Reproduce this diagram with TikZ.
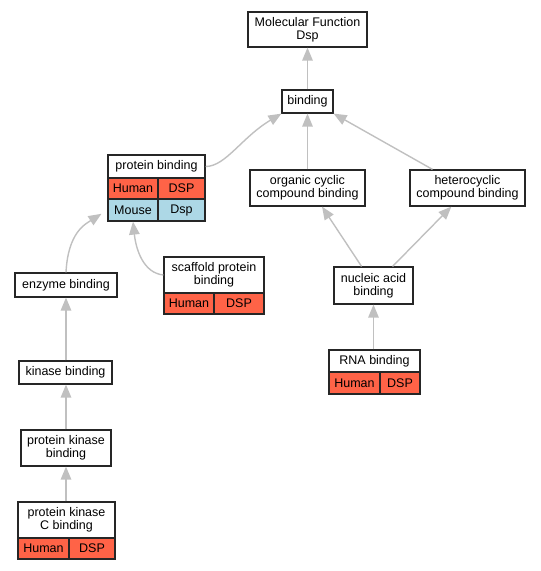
\documentclass[tikz,border=0pt]{standalone}
\usepackage{fontspec}
\setmainfont{Liberation Sans}
\usepackage{tikz}
\usetikzlibrary{arrows.meta,positioning}
\definecolor{humanred}{HTML}{FF6347}
\definecolor{mouseblue}{HTML}{ADD8E6}
\definecolor{edgegray}{HTML}{C0C0C0}
\tikzstyle{every node}=[draw=black!85,line width=1.2pt,inner sep=0pt,align=center,
    font=\fontsize{12.5}{13}\selectfont]
\tikzset{
    term/.style={
                fill=white,
                minimum width=#1
            },
        human/.style={
                fill=humanred,
                minimum height=21pt,
                minimum width=#1
            },
        mouse/.style={
                fill=mouseblue,
                minimum height=22pt,
                minimum width=#1
            },
        isa/.style={
                draw=edgegray,
                line width=1.4pt,
                -{Triangle[length=13pt,width=10.5pt]}
            },
}

\begin{document}
\begin{tikzpicture}[x=1pt,y=-1pt]
  \useasboundingbox (0,0) rectangle (541,571);
  % Root and binding
  \node[term=119pt,minimum height=35pt] (mf) at (307.5,29.5) {Molecular Function\\Dsp};
  \node[term=51pt,minimum height=23pt] (bind) at (307.5,101.5) {binding};
  % Protein binding with species
  \node[term=97pt,minimum height=23pt] (pb) at (156.5,166.5) {protein binding};
  \node[human=50pt] (pbH) at (133,188.5) {Human};
  \node[human=47pt] (pbHg) at (181.5,188.5) {DSP};
  \node[mouse=50pt] (pbM) at (133,210) {Mouse};
  \node[mouse=47pt] (pbMg) at (181.5,210) {Dsp};
  % Compound binding
  \node[term=115pt,minimum height=36pt] (occ) at (307.5,188) {organic cyclic\\compound binding};
  \node[term=115pt,minimum height=36pt] (hcc) at (467.5,188) {heterocyclic\\compound binding};
  \node[term=79pt,minimum height=37pt] (nab) at (373.5,285.5) {nucleic acid\\binding};
  \node[term=91pt,minimum height=22pt] (rna) at (374.5,361) {RNA binding};
  \node[human=51pt,minimum height=22pt] (rnaH) at (354.5,383) {Human};
  \node[human=40pt,minimum height=22pt] (rnaHg) at (400,383) {DSP};
  % Scaffold
  \node[term=100pt,minimum height=36pt] (sp) at (214,275) {scaffold protein\\binding};
  \node[human=50pt] (spH) at (189,303.5) {Human};
  \node[human=50pt] (spHg) at (239,303.5) {DSP};
  % Kinase chain
  \node[term=102pt,minimum height=24pt] (enz) at (66,285) {enzyme binding};
  \node[term=93pt,minimum height=23pt] (kb) at (65.5,372.5) {kinase binding};
  \node[term=90pt,minimum height=36pt] (pkb) at (66,448) {protein kinase\\binding};
  \node[term=97pt,minimum height=36pt] (pkc) at (66.5,520) {protein kinase\\C binding};
  \node[human=51pt] (pkcH) at (43.5,548.5) {Human};
  \node[human=46pt] (pkcHg) at (92,548.5) {DSP};
  % Edges
  \draw[isa] (bind) -- (mf);
  \draw[isa] (pb.east) .. controls +(20,0) and +(-40,24) .. (bind.south west);
  \draw[isa] (occ) -- (bind);
  \draw[isa] (hcc.152) -- (bind.south east);
  \draw[isa] (nab.122) -- (occ.308);
  \draw[isa] (nab.45) -- (hcc.229);
  \draw[isa] (rna.north -| nab.south) -- (nab.south);
  \draw[isa,shorten >=7pt] (enz.north) .. controls +(2,-40) and +(-22,14) .. (pbM.west);
  \draw[isa] (sp.west) .. controls +(-20,-2) and +(3,28) .. (pbM.south);
  \draw[isa] (kb.north -| enz.south) -- (enz.south);
  \draw[isa] (pkb.north) -- (pkb.north |- kb.south);
  \draw[isa] (pkc.north -| pkb.south) -- (pkb.south);
\end{tikzpicture}
\end{document}
